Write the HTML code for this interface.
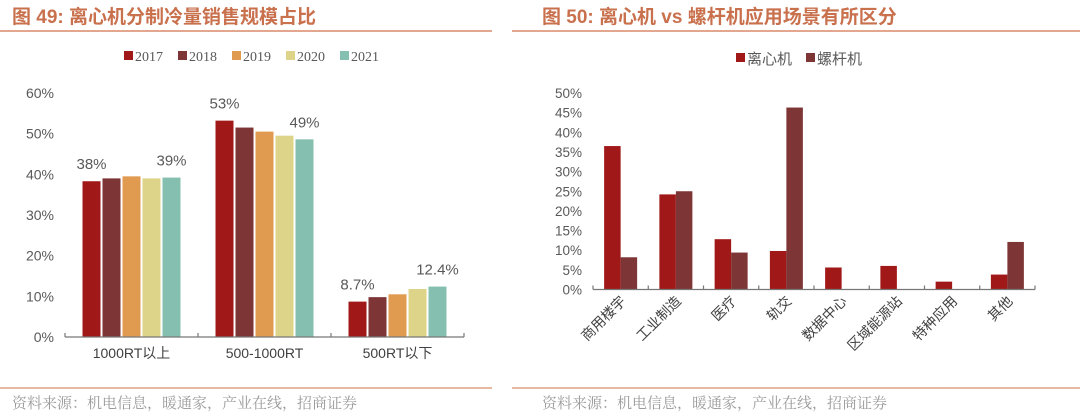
<!DOCTYPE html>
<html><head><meta charset="utf-8">
<style>
body{margin:0;width:1080px;height:413px;background:#fff;overflow:hidden;font-family:"Liberation Sans","Noto Sans CJK SC",sans-serif;}
svg{position:absolute;left:0;top:0}
</style></head>
<body>
<svg width="1080" height="413" viewBox="0 0 1080 413">
<g>
<text x="12" y="23" font-size="19" font-weight="bold" fill="#c9704d" font-family="Liberation Sans, Noto Sans CJK SC, sans-serif">图 49:  离心机分制冷量销售规模占比</text>
<line x1="0" y1="31" x2="492" y2="31" stroke="#d98a68" stroke-width="1.5"/>
<text x="542" y="23" font-size="19" font-weight="bold" fill="#c9704d" font-family="Liberation Sans, Noto Sans CJK SC, sans-serif">图 50:  离心机 vs 螺杆机应用场景有所区分</text>
<line x1="512" y1="31" x2="1080" y2="31" stroke="#d98a68" stroke-width="1.5"/>
<line x1="0" y1="388" x2="492" y2="388" stroke="#e0a282" stroke-width="1.5"/>
<line x1="512" y1="388" x2="1080" y2="388" stroke="#e0a282" stroke-width="1.5"/>
<text x="12" y="408" font-size="15" fill="#9a9a9a" font-family="Noto Serif CJK SC, serif">资料来源：机电信息，暖通家，产业在线，招商证券</text>
<text x="542" y="408" font-size="15" fill="#9a9a9a" font-family="Noto Serif CJK SC, serif">资料来源：机电信息，暖通家，产业在线，招商证券</text>
</g>
<g id="left"></g>
<g id="right"></g>
</svg>
<script>
const NS="http://www.w3.org/2000/svg";
// Left chart data
const leftCategories=["1000RT以上","500-1000RT","500RT以下"];
const leftYears=["2017","2018","2019","2020","2021"];
const leftValues=[[38.3,53.2,8.7],[39.0,51.5,9.8],[39.5,50.5,10.5],[39.0,49.5,11.8],[39.2,48.6,12.4]];
const leftTicks=[0,10,20,30,40,50,60];
const leftLabels=[["38%","53%","8.7%"],[null,null,null],[null,null,null],[null,null,null],["39%","49%","12.4%"]];
// Right chart data
const rightCategories=["商用楼宇","工业制造","医疗","轨交","数据中心","区域能源站","特种应用","其他"];
const rightSeries=["离心机","螺杆机"];
const centrifugal=[36.5,24.2,12.8,9.8,5.6,6.0,2.0,3.8];
const screw=[8.2,25.0,9.4,46.3,0,0,0,12.1];
const rightTicks=[0,5,10,15,20,25,30,35,40,45,50];

function el(tag,attrs,parent,text){const e=document.createElementNS(NS,tag);for(const k in attrs)e.setAttribute(k,attrs[k]);if(text!==undefined)e.textContent=text;parent.appendChild(e);return e;}

// Left
(function(){
const g=document.getElementById('left');
const colors=["#a01818","#7d3535","#e09b50","#ddd48a","#85bfb0"];
const y0=337,pxPer=40.67/10,x0=65,gw=133;
const y=v=>y0-v*pxPer;
leftTicks.forEach(t=>{const e=el('text',{x:54,y:y(t)+5,'text-anchor':'end','font-size':14,fill:'#595959'},g,t+'%');

});
leftCategories.forEach((c,i)=>{
 const cx=x0+gw*i+gw/2;
 leftValues.forEach((s,j)=>{
  const bx=cx-50+j*20+1;
  const r=el('rect',{x:bx,y:y(s[i]),width:18,height:s[i]*pxPer,fill:colors[j]},g);
  
  
  const lb=leftLabels[j][i];
  if(lb){const t=el('text',{x:bx+9,y:y(s[i])-12,'text-anchor':'middle','font-size':15,fill:'#595959'},g,lb);
  
  }
 });
 const t=el('text',{x:cx,y:358,'text-anchor':'middle','font-size':14,fill:'#404040'},g,c);
 
 
});
const ax=el('path',{d:`M${x0} ${y0}H${x0+gw*3} M${x0} ${y0}v-4 M${x0+gw} ${y0}v-4 M${x0+gw*2} ${y0}v-4 M${x0+gw*3} ${y0}v-4`,stroke:'#777',fill:'none','stroke-width':1.2},g);


let lx=124;
leftYears.forEach((yr,j)=>{
 const r=el('rect',{x:lx,y:51,width:9,height:9,fill:colors[j]},g);
 
 
 const t=el('text',{x:lx+11,y:61,'font-size':14,fill:'#595959','font-family':'Liberation Serif, serif'},g,yr);
 
 
 lx+=54;
});
})();

// Right
(function(){
const g=document.getElementById('right');
const colors=["#a01818","#7d3535"];
const y0=289.5,pxPer=19.65/5,x0=593,gw=55.25;
const y=v=>y0-v*pxPer;
rightTicks.forEach(t=>{const e=el('text',{x:582,y:y(t)+5,'text-anchor':'end','font-size':13.5,fill:'#595959'},g,t+'%');

});
[centrifugal,screw].forEach((s,j)=>{
 s.forEach((v,i)=>{
  if(v<=0)return;
  const cx=x0+gw*i+gw/2;
  const r=el('rect',{x:cx-16.5+j*16.5,y:y(v),width:16.5,height:v*pxPer,fill:colors[j]},g);
  
  
 });
});
let d=`M${x0} ${y0}H${x0+gw*8}`;
for(let i=0;i<=8;i++)d+=` M${x0+gw*i} ${y0}v-4`;
const ax=el('path',{d:d,stroke:'#777',fill:'none','stroke-width':1.2},g);


rightCategories.forEach((c,i)=>{
 const cx=x0+gw*i+gw/2+6;
 const t=el('text',{x:cx,y:302,'text-anchor':'end','font-size':14,fill:'#404040',transform:`rotate(-45 ${cx} 302)`},g,c);
 
 
});
let lx=736;
rightSeries.forEach((s,j)=>{
 const r=el('rect',{x:lx,y:53,width:9,height:9,fill:colors[j]},g);
 
 
 const t=el('text',{x:lx+11,y:64,'font-size':15,fill:'#595959'},g,s);
 
 
 lx+=70;
});
})();
</script>
</body></html>
